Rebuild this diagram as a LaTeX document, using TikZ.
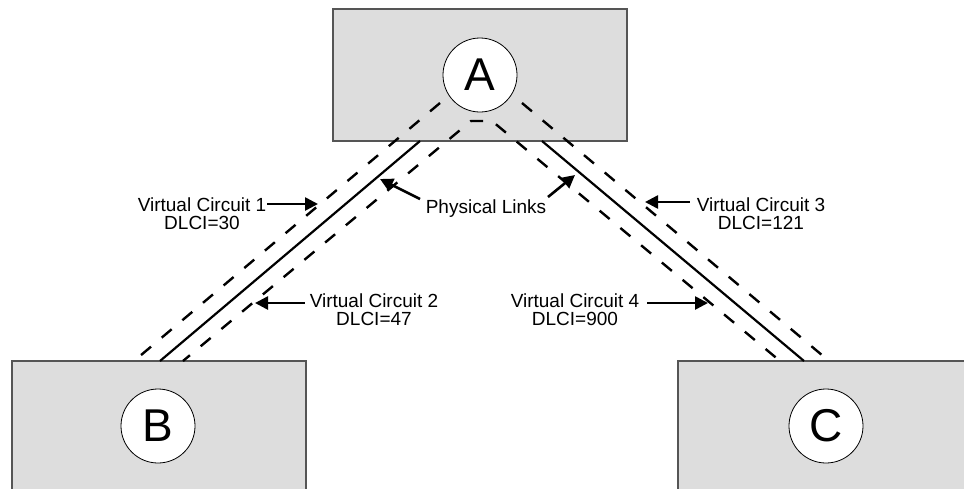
\documentclass[tikz,border=0pt]{standalone}
\usepackage{fontspec}
\setmainfont{Liberation Sans}
\usetikzlibrary{arrows.meta}
\definecolor{sitefill}{HTML}{DDDDDD}
\definecolor{siteedge}{HTML}{555555}
\begin{document}
\begin{tikzpicture}[x=1pt,y=-1pt,
  site/.style={draw=siteedge, line width=1.2pt, fill=sitefill,
    minimum width=294pt, minimum height=132pt, inner sep=0pt},
  port/.style={circle, draw=black, fill=white, line width=0.8pt,
    minimum size=74pt, inner sep=0pt, font=\fontsize{46}{46}\selectfont},
  link/.style={line width=2.2pt},
  vc/.style={line width=2.4pt, dash pattern=on 13pt off 14pt},
  tag/.style={font=\fontsize{19}{18}\selectfont, align=center, inner sep=0pt},
  pointer/.style={line width=2.6pt, -{Triangle[length=13pt,width=13pt]}}]
\clip (0,0) rectangle (964,488);

% sites
\node[site] (siteA) at (480,75) {};
\node[site] (siteB) at (159,427) {};
\node[site] (siteC) at (825,427) {};

% end points of the links and virtual circuits
\coordinate (pA1) at (420,141);
\coordinate (pB1) at (160,361);
\coordinate (pA2) at (542,141);
\coordinate (pC2) at (804,361);
\coordinate (v1a) at (440,103);
\coordinate (v1b) at (134,361);
\coordinate (v3a) at (522,103);
\coordinate (v3b) at (829,361);
\coordinate (v2b) at (183,361);
\coordinate (apexL) at (471,121);
\coordinate (apexR) at (492,121);
\coordinate (v4b) at (780,361);

% physical links
\draw[link] (pA1) -- (pB1);
\draw[link] (pA2) -- (pC2);

% virtual circuits
\draw[vc] (v1a) -- (v1b);
\draw[vc] (v3a) -- (v3b);
\draw[vc, dash phase=4pt] (v2b) -- (apexL) -- (apexR) -- (v4b);

% ports
\node[port] (A) at (480,75) {A};
\node[port] (B) at (158,426) {B};
\node[port] (C) at (826,426) {C};

% labels
\node[tag] (vc1) at (202,214) {Virtual Circuit 1\\DLCI=30};
\node[tag] (vc2) at (374,310) {Virtual Circuit 2\\DLCI=47};
\node[tag] (vc3) at (761,214) {Virtual Circuit 3\\DLCI=121};
\node[tag] (vc4) at (575,310) {Virtual Circuit 4\\DLCI=900};
\node[tag] (phys) at (486,209) {Physical Links};

% label pointers
\coordinate (t1) at (318,204);
\coordinate (t2) at (255,303);
\coordinate (t3) at (645,202);
\coordinate (t4) at (708,303);
\coordinate (tL) at (380,179);
\coordinate (tR) at (575,175);
\coordinate (sL) at (420,199);
\coordinate (sR) at (548,197);
\draw[pointer] ([xshift=1pt]vc1.east |- t1) -- (t1);
\draw[pointer] ([xshift=-5pt]vc2.west |- t2) -- (t2);
\draw[pointer] ([xshift=-7pt]vc3.west |- t3) -- (t3);
\draw[pointer] ([xshift=8pt]vc4.east |- t4) -- (t4);
\draw[pointer] (sL) -- (tL);
\draw[pointer] (sR) -- (tR);
\end{tikzpicture}
\end{document}
